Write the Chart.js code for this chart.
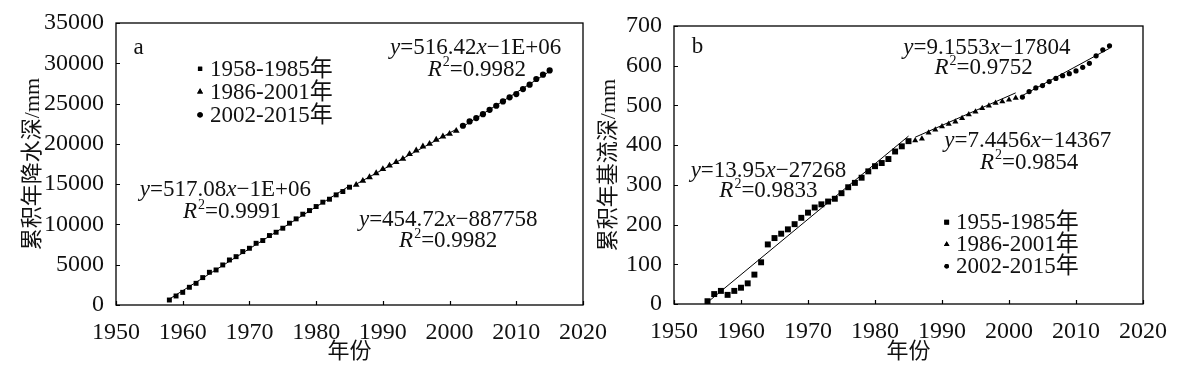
<!DOCTYPE html>
<html>
<head>
<meta charset="utf-8">
<script src="https://cdn.jsdelivr.net/npm/chart.js@4.4.1/dist/chart.umd.min.js"></script>
<style>
    body { margin: 0; background: #fff; width: 1193px; height: 377px; overflow: hidden; position: relative; }
    canvas { position: absolute; top: 0; }
    #chartA { left: 0; }
    #chartB { left: 580px; }
</style>
</head>
<body>
<canvas id="chartA" width="620" height="377"></canvas>
<canvas id="chartB" width="613" height="377"></canvas>
<script>
// ---- chart a: cumulative annual precipitation (mm)
const aYears1 = [1958, 1959, 1960, 1961, 1962, 1963, 1964, 1965, 1966, 1967, 1968, 1969, 1970, 1971,
    1972, 1973, 1974, 1975, 1976, 1977, 1978, 1979, 1980, 1981, 1982, 1983, 1984, 1985];
const aRain1 = [620, 1120, 1570, 2200, 2690, 3400, 4060, 4350, 4970, 5590, 6000, 6630, 7040, 7660,
    8000, 8620, 9030, 9530, 10150, 10690, 11270, 11720, 12220, 12760, 13130, 13670, 14080, 14620];
const aYears2 = [1986, 1987, 1988, 1989, 1990, 1991, 1992, 1993, 1994, 1995, 1996, 1997, 1998, 1999, 2000, 2001];
const aRain2 = [14910, 15410, 15860, 16360, 16860, 17310, 17730, 18140, 18720, 19180, 19680, 20010,
    20510, 20920, 21250, 21620];
const aYears3 = [2002, 2003, 2004, 2005, 2006, 2007, 2008, 2009, 2010, 2011, 2012, 2013, 2014, 2015];
const aRain3 = [22250, 22780, 23200, 23690, 24230, 24730, 25270, 25770, 26180, 26800, 27340, 28050, 28590, 29120];
const aLegend = ['1958-1985年', '1986-2001年', '2002-2015年'];
const aEquations = ['y=517.08x−1E+06', 'y=454.72x−887758', 'y=516.42x−1E+06'];
const aR2 = ['R2=0.9991', 'R2=0.9982', 'R2=0.9982'];

// ---- chart b: cumulative annual baseflow (mm)
const bYears1 = [1955, 1956, 1957, 1958, 1959, 1960, 1961, 1962, 1963, 1964, 1965, 1966, 1967, 1968, 1969,
    1970, 1971, 1972, 1973, 1974, 1975, 1976, 1977, 1978, 1979, 1980, 1981, 1982, 1983, 1984, 1985];
const bFlow1 = [7, 25, 33, 23, 33, 41, 52, 74, 105, 150, 166, 177, 188, 201, 217,
    230, 243, 251, 258, 265, 279, 294, 305, 318, 334, 347, 355, 365, 384, 397, 410];
const bYears2 = [1986, 1987, 1988, 1989, 1990, 1991, 1992, 1993, 1994, 1995, 1996, 1997, 1998, 1999, 2000, 2001];
const bFlow2 = [412, 416, 431, 439, 447, 453, 459, 468, 477, 484, 493, 499, 506, 510, 514, 519];
const bYears3 = [2002, 2003, 2004, 2005, 2006, 2007, 2008, 2009, 2010, 2011, 2012, 2013, 2014, 2015];
const bFlow3 = [521, 535, 544, 550, 560, 568, 575, 580, 587, 596, 606, 625, 640, 650];
const bSlopes = [13.95, 7.4456, 9.1553];
const bIntercepts = [-27268, -14367, -17804];
const bLegend = ['1955-1985年', '1986-2001年', '2002-2015年'];
const bEquations = ['y=13.95x−27268', 'y=7.4456x−14367', 'y=9.1553x−17804'];
const bR2 = ['R2=0.9833', 'R2=0.9854', 'R2=0.9752'];

const SERIF = '"Liberation Serif", "Noto Sans CJK SC", serif';
const INK = '#111';
const styles = ['rect', 'triangle', 'circle'];

function zip(xs, ys) {
    return xs.map((x, i) => ({ x: x, y: ys[i] }));
}

// least squares line for chart a (its intercepts are only printed as 1E+06)
function fitLine(xs, ys) {
    const n = xs.length;
    const mx = xs.reduce((s, v) => s + v, 0) / n;
    const my = ys.reduce((s, v) => s + v, 0) / n;
    let sxy = 0, sxx = 0;
    xs.forEach((x, i) => { sxy += (x - mx) * (ys[i] - my); sxx += (x - mx) * (x - mx); });
    const k = sxy / sxx;
    return [k, my - k * mx];
}

function trend(xs, k, b) {
    const x0 = xs[0], x1 = xs[xs.length - 1];
    return [{ x: x0, y: k * x0 + b }, { x: x1, y: k * x1 + b }];
}

// text with italic x / y / R and superscript 2
function drawRich(ctx, str, cx, cy, size) {
    const parts = [];
    for (let i = 0; i < str.length; i++) {
        const c = str[i];
        if (c === 'x' || c === 'y' || c === 'R') parts.push({ t: c, f: 'italic ' + size + 'px ' + SERIF, dy: 0, gap: c === 'R' ? 1 : 0 });
        else if (c === '2' && str[i - 1] === 'R') parts.push({ t: c, f: Math.round(size * 0.62) + 'px ' + SERIF, dy: -size * 0.4, gap: 0 });
        else if (parts.length && parts[parts.length - 1].plain) parts[parts.length - 1].t += c;
        else parts.push({ t: c, f: size + 'px ' + SERIF, dy: 0, gap: 0, plain: true });
    }
    let w = 0;
    parts.forEach(p => { ctx.font = p.f; p.w = ctx.measureText(p.t).width + p.gap; w += p.w; });
    let x = cx - w / 2;
    const base = cy + size * 0.33;
    ctx.textAlign = 'left';
    ctx.textBaseline = 'alphabetic';
    parts.forEach(p => { ctx.font = p.f; ctx.fillText(p.t, x, base + p.dy); x += p.w; });
}

const frameTicks = {
    id: 'frameTicks',
    afterDraw(chart) {
        const { ctx, chartArea: a, scales: { x, y } } = chart;
        ctx.save();
        ctx.strokeStyle = '#000';
        ctx.lineWidth = 1.3;
        ctx.strokeRect(a.left, a.top, a.right - a.left, a.bottom - a.top);
        ctx.lineWidth = 1.2;
        ctx.beginPath();
        x.ticks.forEach(t => {
            const px = Math.round(x.getPixelForValue(t.value)) + 0.5;
            ctx.moveTo(px, a.bottom); ctx.lineTo(px, a.bottom - 4);
        });
        y.ticks.forEach(t => {
            const py = Math.round(y.getPixelForValue(t.value)) + 0.5;
            ctx.moveTo(a.left, py); ctx.lineTo(a.left + 4, py);
        });
        ctx.stroke();
        ctx.restore();
    }
};

// notes: panel letter, equations, legend — placed in data coordinates
function makeNotes(n) {
    return {
        id: 'notes',
        afterDatasetsDraw(chart) {
            const { ctx, scales: { x, y } } = chart;
            ctx.save();
            ctx.fillStyle = INK;
            ctx.font = '23px ' + SERIF;
            ctx.textAlign = 'center';
            ctx.textBaseline = 'middle';
            ctx.fillText(n.letter, x.getPixelForValue(n.letterAt[0]), y.getPixelForValue(n.letterAt[1]));
            n.eqs.forEach((s, i) => {
                drawRich(ctx, s, x.getPixelForValue(n.eqAt[i][0]), y.getPixelForValue(n.eqAt[i][1]), 23);
                drawRich(ctx, n.r2[i], x.getPixelForValue(n.r2At[i][0]), y.getPixelForValue(n.r2At[i][1]), 23);
            });
            n.legend.forEach((s, i) => {
                const py = y.getPixelForValue(n.legendRows[i]);
                ctx.fillStyle = '#000';
                Chart.helpers.drawPoint(ctx, {
                    pointStyle: styles[i], radius: n.legendRadius[i], rotation: 0, borderWidth: 0
                }, x.getPixelForValue(n.legendX[0]), py);
                ctx.fill();
                ctx.fillStyle = INK;
                ctx.font = '23px ' + SERIF;
                ctx.textAlign = 'left';
                ctx.textBaseline = 'middle';
                ctx.fillText(s, x.getPixelForValue(n.legendX[1]), py + 1);
            });
            ctx.restore();
        }
    };
}

function pointSet(data, style, radius) {
    return {
        type: 'scatter', data: data, pointStyle: style, pointRadius: radius,
        backgroundColor: '#000', borderColor: '#000', borderWidth: 0, order: 1
    };
}

function lineSet(data) {
    return {
        type: 'line', data: data, borderColor: '#000', borderWidth: 1, pointRadius: 0,
        fill: false, tension: 0, order: 2
    };
}

function buildChart(id, cfg) {
    return new Chart(document.getElementById(id), {
        data: { datasets: cfg.datasets },
        options: {
            responsive: false,
            animation: false,
            layout: { padding: cfg.padding },
            plugins: { legend: { display: false }, tooltip: { enabled: false } },
            scales: {
                x: {
                    type: 'linear', min: 1950, max: 2020,
                    grid: { display: false }, border: { display: false },
                    afterFit: s => { s.height = cfg.xHeight; },
                    ticks: {
                        stepSize: 10, padding: 5, color: INK, maxRotation: 0,
                        font: { family: SERIF, size: 24 }, callback: v => String(v)
                    },
                    title: {
                        display: true, text: '年份', color: INK,
                        font: { family: SERIF, size: 22 }, padding: { top: 0, bottom: 12 }
                    }
                },
                y: {
                    type: 'linear', min: 0, max: cfg.yMax,
                    grid: { display: false }, border: { display: false },
                    afterFit: s => { s.width = cfg.yWidth; },
                    ticks: {
                        stepSize: cfg.yStep, padding: 4, color: INK,
                        font: { family: SERIF, size: 24 }, callback: v => String(v)
                    },
                    title: {
                        display: true, text: cfg.yTitle, color: INK,
                        font: { family: SERIF, size: 22 }, padding: { top: cfg.yTitlePad, bottom: 0 }
                    }
                }
            }
        },
        plugins: [frameTicks, makeNotes(cfg.notes)]
    });
}

// chart a
const aFits = [fitLine(aYears1, aRain1), fitLine(aYears2, aRain2), fitLine(aYears3, aRain3)];
buildChart('chartA', {
    datasets: [
        pointSet(zip(aYears1, aRain1), 'rect', 3.5),
        pointSet(zip(aYears2, aRain2), 'triangle', 3.9),
        pointSet(zip(aYears3, aRain3), 'circle', 3.1),
        lineSet(trend(aYears1, aFits[0][0], aFits[0][1])),
        lineSet(trend(aYears2, aFits[1][0], aFits[1][1])),
        lineSet(trend(aYears3, aFits[2][0], aFits[2][1]))
    ],
    padding: { left: 0, right: 37, top: 23, bottom: 0 },
    xHeight: 72, yWidth: 116, yMax: 35000, yStep: 5000,
    yTitle: '累积年降水深/mm', yTitlePad: 20,
    notes: {
        letter: 'a', letterAt: [1953.4, 31900],
        eqs: aEquations, r2: aR2,
        eqAt: [[1966.4, 14420], [1999.8, 10770], [2003.9, 32100]],
        r2At: [[1967.4, 11720], [1999.8, 8080], [2004.1, 29410]],
        legend: aLegend, legendX: [1962.6, 1964.1], legendRows: [29310, 26470, 23600],
        legendRadius: [3, 3.4, 2.7]
    }
});

// chart b
buildChart('chartB', {
    datasets: [
        pointSet(zip(bYears1, bFlow1), 'rect', 4.2),
        pointSet(zip(bYears2, bFlow2), 'triangle', 3.5),
        pointSet(zip(bYears3, bFlow3), 'circle', 2.6),
        lineSet(trend(bYears1, bSlopes[0], bIntercepts[0])),
        lineSet(trend(bYears2, bSlopes[1], bIntercepts[1])),
        lineSet(trend(bYears3, bSlopes[2], bIntercepts[2]))
    ],
    padding: { left: 0, right: 50, top: 26, bottom: 0 },
    xHeight: 73, yWidth: 94, yMax: 700, yStep: 100,
    yTitle: '累积年基流深/mm', yTitlePad: 16,
    notes: {
        letter: 'b', letterAt: [1953.5, 648],
        eqs: bEquations, r2: bR2,
        eqAt: [[1964.1, 339], [2002.8, 414], [1996.7, 648]],
        r2At: [[1964.1, 289], [2003.0, 360], [1996.2, 598]],
        legend: bLegend, legendX: [1990.7, 1992.1], legendRows: [206, 150, 95],
        legendRadius: [3.4, 3.2, 2.3]
    }
});
</script>
</body>
</html>
